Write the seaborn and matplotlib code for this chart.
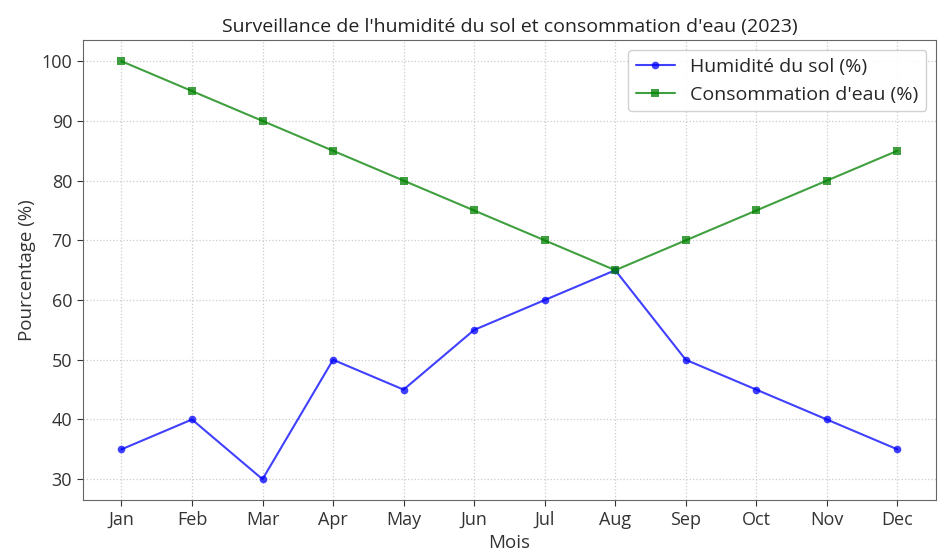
import pandas as pd
import seaborn as sns
import matplotlib.pyplot as plt

months = ['Jan', 'Feb', 'Mar', 'Apr', 'May', 'Jun', 'Jul', 'Aug', 'Sep', 'Oct', 'Nov', 'Dec']
humidite = [35, 40, 30, 50, 45, 55, 60, 65, 50, 45, 40, 35]
consommation = [100, 95, 90, 85, 80, 75, 70, 65, 70, 75, 80, 85]

sns.set_style('white')
plt.rcParams['font.family'] = ['Open Sans', 'DejaVu Sans']

df = pd.DataFrame({'Mois': months, 'hum': humidite, 'conso': consommation})

fig, ax = plt.subplots(figsize=(9.39, 5.52), dpi=100)
sns.lineplot(data=df, x='Mois', y='hum', marker='o', color='blue', markersize=5.5,
             markeredgewidth=0, alpha=0.75, label='Humidité du sol (%)', ax=ax, sort=False)
sns.lineplot(data=df, x='Mois', y='conso', marker='s', color='green', markersize=5.5,
             markeredgewidth=0, alpha=0.75, label="Consommation d'eau (%)", ax=ax, sort=False)

ax.grid(True, linestyle=':', color='#cccccc', linewidth=0.9)
for s in ax.spines.values():
    s.set_color('#666666')
ax.tick_params(axis='both', labelsize=13, colors='#333333', length=4, left=True, bottom=True)
ax.set_title("Surveillance de l'humidité du sol et consommation d'eau (2023)", fontsize=14, color='#222222')
ax.set_xlabel('Mois', fontsize=13.5, color='#333333')
ax.set_ylabel('Pourcentage (%)', fontsize=13.5, color='#333333')
ax.legend(loc='upper right', fontsize=14, frameon=True, framealpha=0.9)
plt.subplots_adjust(left=0.088, right=0.997, top=0.927, bottom=0.094)
plt.savefig('out.png', dpi=100)
